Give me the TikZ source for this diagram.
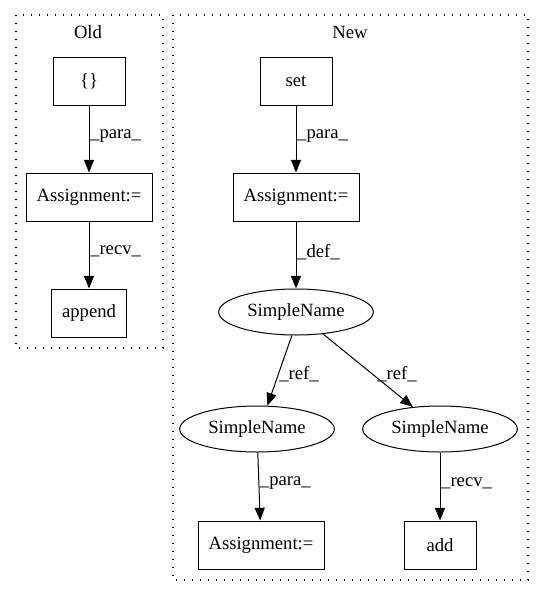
\documentclass[tikz,border=0pt]{standalone}
\usepackage{fontspec}
\setmainfont{Liberation Serif}
\usetikzlibrary{arrows.meta,shapes.geometric}
\begin{document}
\begin{tikzpicture}[x=0.75pt,y=-0.75pt,
  font=\fontsize{14}{16}\selectfont,
  box/.style={draw, line width=0.75pt, minimum width=54pt, minimum height=36pt, inner sep=0pt},
  widebox/.style={box, minimum width=94.5pt},
  ell/.style={draw, line width=0.75pt, ellipse, minimum width=116pt, minimum height=34.5pt, inner sep=0pt},
  arr/.style={-{Triangle[length=9.5pt,width=7.5pt]}, line width=0.75pt},
  lab/.style={anchor=west, inner sep=0pt},
  cluster/.style={draw, line width=1pt, dash pattern=on 1pt off 5pt}]
\useasboundingbox (0,0) rectangle (544,596);
% clusters
\draw[cluster] (16,15) rectangle (163,348);
\draw[cluster] (173,15) rectangle (528,580);
\node (oldlbl) at (88,32) {Old};
\node (newlbl) at (350,32) {New};
% Old
\node[box] (brace) at (89,81) {\{\}};
\node[widebox] (oassign) at (89,197) {Assignment:=};
\node[box, minimum width=56pt] (append) at (89,313) {append};
\draw[arr] (brace) -- (oassign) node[lab, pos=0.45, xshift=0.5pt] {\_para\_};
\draw[arr] (oassign) -- (append) node[lab, pos=0.45, xshift=0.5pt] {\_recv\_};
% New
\node[box] (set) at (296,81) {set};
\node[widebox] (nassign) at (296,197) {Assignment:=};
\node[ell] (sn) at (296,312) {SimpleName};
\node[ell] (snl) at (257,429) {SimpleName};
\node[ell] (snr) at (440,429) {SimpleName};
\node[widebox] (bassign) at (261,545) {Assignment:=};
\node[box] (add) at (440,545) {add};
\draw[arr] (set) -- (nassign) node[lab, pos=0.45, xshift=0.5pt] {\_para\_};
\draw[arr] (nassign) -- (sn) node[lab, pos=0.45, xshift=0.5pt] {\_def\_};
\draw[arr] (sn.-100) -- (snl.66);
\draw[arr] (sn) -- (snr);
\node[lab] (refl) at (279,374) {\_ref\_};
\node[lab] (refr) at (377,374) {\_ref\_};
\draw[arr] (snl) -- (bassign) node[lab, pos=0.45, xshift=0.5pt] {\_para\_};
\draw[arr] (snr) -- (add) node[lab, pos=0.45, xshift=0.5pt] {\_recv\_};
\end{tikzpicture}
\end{document}
